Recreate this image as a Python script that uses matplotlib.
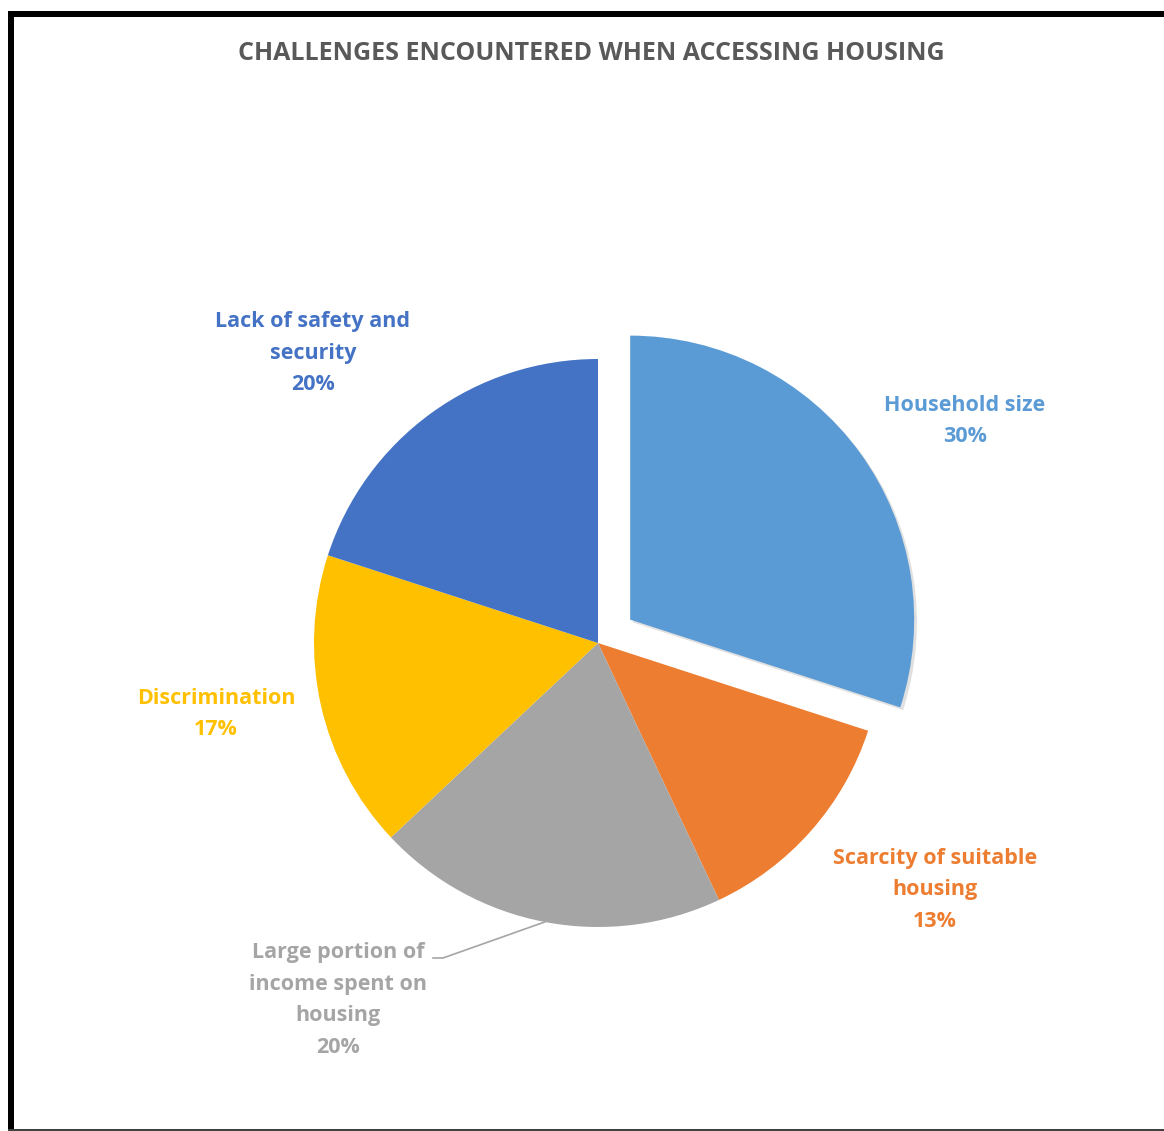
import numpy as np
import matplotlib
matplotlib.use("Agg")
import matplotlib.pyplot as plt
from matplotlib.patches import Rectangle
import matplotlib.patheffects as pe

plt.rcParams['font.family'] = ['Open Sans', 'DejaVu Sans']

# 数据
labels = ["Household size", "Scarcity of suitable\nhousing",
          "Large portion of\nincome spent on\nhousing", "Discrimination",
          "Lack of safety and\nsecurity"]
values = [30, 13, 20, 17, 20]
colors = ["#5B9BD5", "#ED7D31", "#A5A5A5", "#FFC000", "#4472C4"]
explode = [0.14, 0, 0, 0, 0]

title = "CHALLENGES ENCOUNTERED WHEN ACCESSING HOUSING"

# 画布：像素 -> 数据坐标（饼图半径 = 1）
W, H = 1164, 1131
cx, cy, R = 598, 643, 284


def to_data(px, py):
    return (px - cx) / R, (cy - py) / R


fig = plt.figure(figsize=(W / 100, H / 100), dpi=100)
ax = fig.add_axes([0, 0, 1, 1])

wedges, _ = ax.pie(values, colors=colors, explode=explode, startangle=90,
                   counterclock=False, radius=1, center=(0, 0),
                   wedgeprops=dict(linewidth=0))
wedges[0].set_path_effects([pe.SimplePatchShadow(offset=(2, -2), alpha=0.12,
                                                 shadow_rgbFace="black"),
                            pe.Normal()])

# pie() 会改坐标范围，之后再设
ax.set_aspect("auto")
ax.set_xlim(-cx / R, (W - cx) / R)
ax.set_ylim(-(H - cy) / R, cy / R)
ax.axis("off")

# 数据标签位置（像素）
label_pos = [(965, 421), (935, 890), (338, 1000), (216, 714), (313, 353)]
for lab, v, c, (px, py) in zip(labels, values, colors, label_pos):
    x, y = to_data(px, py)
    ax.text(x, y, f"{lab}\n{v}%", color=c, fontsize=15.5, fontweight="bold",
            ha="center", va="center", linespacing=1.65)

# 引线：Large portion of income ...
start = sum(values[:2]) / 100
mid = (start + values[2] / 200) * 2 * np.pi
ex, ey = np.sin(mid), np.cos(mid)
kx, ky = to_data(443, 958)
lx, ly = to_data(433, 958)
ax.plot([ex, kx, lx], [ey, ky, ly], color="#A5A5A5", lw=1.2)

fig.text(591 / W, 1 - 53 / H, title, ha="center", va="center",
         fontsize=18, fontweight="bold", color="#595959")

# 外框
fig.add_artist(Rectangle((8 / W, 1 - 17 / H), 1, 6 / H, transform=fig.transFigure,
                         color="black", lw=0))
fig.add_artist(Rectangle((8 / W, 0), 6 / W, 1 - 11 / H, transform=fig.transFigure,
                         color="black", lw=0))
fig.add_artist(Rectangle((8 / W, 0), 1, 2 / H, transform=fig.transFigure,
                         color="#404040", lw=0))

fig.savefig("out.png", dpi=100)
